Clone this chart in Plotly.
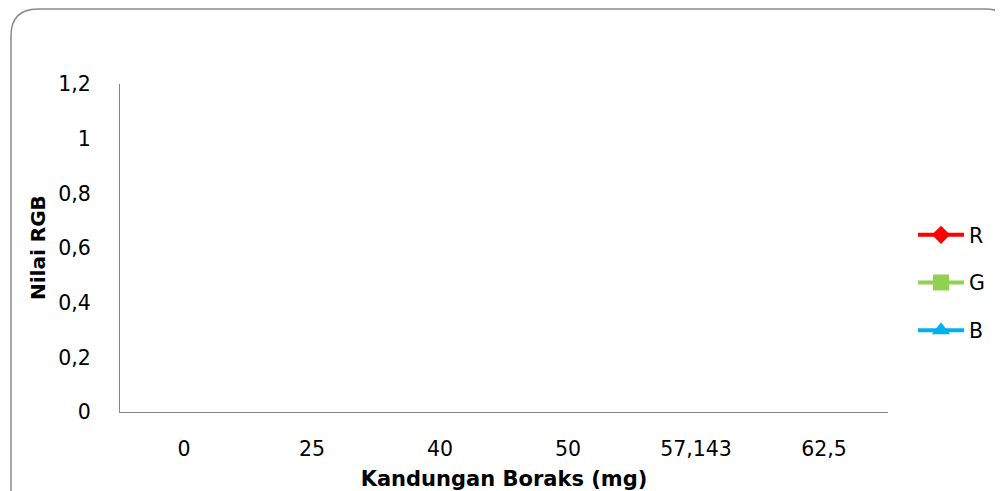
import plotly.graph_objects as go

categories = ["0", "25", "40", "50", "57,143", "62,5"]
r_values = [None, None, None, None, None, None]
g_values = [None, None, None, None, None, None]
b_values = [None, None, None, None, None, None]
y_ticks = [0, 0.2, 0.4, 0.6, 0.8, 1.0, 1.2]
y_tick_labels = ["0", "0,2", "0,4", "0,6", "0,8", "1", "1,2"]

W, H = 1003, 491
OFF = 8  # page body margin
# plot area in page pixels: x 120..888, y 84..412
L = 120 - OFF
T = 84 - OFF
R = W - (888 - OFF)
B = H - (412 - OFF)
pw, ph = W - L - R, H - T - B

def px(xp):
    return (xp - OFF - L) / pw

def py(yp):
    return (H - B - (yp - OFF)) / ph

fig = go.Figure()
series = [
    ("R", r_values, "#FF0000", "diamond", 14),
    ("G", g_values, "#92D050", "square", 16),
    ("B", b_values, "#00B0F0", "triangle-up", 16),
]
for name, vals, col, sym, sz in series:
    fig.add_trace(go.Scatter(
        x=categories, y=vals, name=name, mode="lines+markers",
        legendgroup=name,
        line=dict(color=col, width=4),
        marker=dict(symbol=sym, size=sz, color=col),
    ))

# rounded outer frame (page pixel coordinates)
x0, x1, y0, y1, rad = 11, 1012, 9, 540, 27
path = (f"M {px(x0)},{py(y0+rad)} Q {px(x0)},{py(y0)} {px(x0+rad)},{py(y0)} "
        f"L {px(x1-rad)},{py(y0)} Q {px(x1)},{py(y0)} {px(x1)},{py(y0+rad)} "
        f"L {px(x1)},{py(y1)} L {px(x0)},{py(y1)} Z")
fig.add_shape(type="path", path=path, xref="paper", yref="paper",
              line=dict(color="#8a8a8a", width=1.5), layer="below")

# y-axis title placed precisely
fig.add_annotation(text="<b>Nilai RGB</b>", xref="paper", yref="paper",
                   x=px(38), y=py(248), xanchor="center", yanchor="middle",
                   textangle=-90, showarrow=False, font=dict(size=20))

font = "'DejaVu Sans', sans-serif"
fig.update_layout(
    width=W, height=H,
    margin=dict(l=L, r=R, t=T, b=B),
    paper_bgcolor="white", plot_bgcolor="white",
    font=dict(family=font, size=20.5, color="black"),
    showlegend=True,
    legend=dict(x=px(913), y=py(215), xanchor="left", yanchor="top",
                font=dict(size=20.5), tracegroupgap=18, itemwidth=46,
                bgcolor="rgba(0,0,0,0)"),
    xaxis=dict(type="category", categoryorder="array", categoryarray=categories,
               range=[-0.5, 5.5], showgrid=False, zeroline=False,
               showline=True, linecolor="#868686", linewidth=1,
               ticks="", ticklabelstandoff=18,
               title=dict(text="<b>Kandungan Boraks (mg)</b>", standoff=11,
                          font=dict(size=21))),
    yaxis=dict(range=[0, 1.2], tickvals=y_ticks, ticktext=y_tick_labels,
               showgrid=False, zeroline=False, showline=True,
               linecolor="#868686", linewidth=1, ticks="",
               ticklabelstandoff=24),
)

fig.write_html("out.html")
